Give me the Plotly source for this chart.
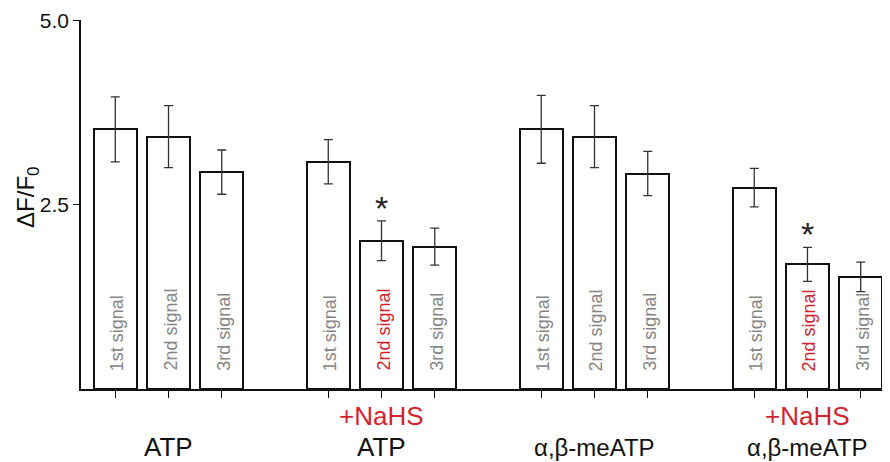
import plotly.graph_objects as go

# ---- data ----
groups = ["ATP", "ATP", "α,β-meATP", "α,β-meATP"]
group_prefix = ["", "+NaHS", "", "+NaHS"]
signals = ["1st signal", "2nd signal", "3rd signal"]
means = [3.52, 3.42, 2.94,
         3.08, 2.01, 1.93,
         3.52, 3.42, 2.92,
         2.73, 1.69, 1.52]
sems = [0.44, 0.42, 0.30,
        0.30, 0.27, 0.25,
        0.46, 0.42, 0.30,
        0.26, 0.23, 0.20]
significant = [False, False, False,
               False, True, False,
               False, False, False,
               False, True, False]
ytick_vals = [2.5, 5.0]
ytick_text = ["2.5", "5.0"]

RED = "#d2232e"
GRAY = "#858585"
FONT = "Liberation Sans, Arial, sans-serif"

# positions: 3 bars per group, one empty slot between groups
xpos = []
for g in range(len(groups)):
    for s in range(len(signals)):
        xpos.append(g * 4 + s)

fig = go.Figure()
fig.add_trace(go.Bar(
    x=xpos, y=means, width=0.8,
    marker=dict(color="white", line=dict(color="#111", width=2)),
    error_y=dict(type="data", array=sems, visible=True,
                 color="#333", thickness=1.3, width=4.5),
    showlegend=False, hoverinfo="skip",
))

annotations = []
for i, (x, m, e) in enumerate(zip(xpos, means, sems)):
    g, s = divmod(i, 3)
    txt_color = RED if (group_prefix[g] and s == 1) else GRAY
    annotations.append(dict(
        x=x, y=0, xref="x", yref="y", text=signals[s], showarrow=False,
        textangle=-90, yanchor="bottom", xanchor="center", yshift=16, xshift=2,
        font=dict(family=FONT, size=18, color=txt_color)))
    if significant[i]:
        annotations.append(dict(
            x=x, y=m + e, xref="x", yref="y", text="*", showarrow=False,
            yanchor="middle", xanchor="center", yshift=13,
            font=dict(family=FONT, size=34, color="#222")))

for g in range(len(groups)):
    cx = g * 4 + 1
    size = 26 if groups[g] == "ATP" else 24
    annotations.append(dict(
        x=cx, y=0, xref="x", yref="paper", text=groups[g], showarrow=False,
        yanchor="middle", xanchor="center", yshift=-58,
        font=dict(family=FONT, size=size, color="#111")))
    if group_prefix[g]:
        annotations.append(dict(
            x=cx, y=0, xref="x", yref="paper", text=group_prefix[g], showarrow=False,
            yanchor="middle", xanchor="center", yshift=-27,
            font=dict(family=FONT, size=26, color=RED)))

annotations.append(dict(
    x=-0.067, y=0.52, xref="paper", yref="paper", text="ΔF/F<sub>0</sub>",
    showarrow=False, textangle=-90, xanchor="center", yanchor="middle",
    font=dict(family=FONT, size=24, color="#111")))

# page body has an 8px margin, so the figure is offset by 8px
fig.update_layout(
    width=882, height=454,
    margin=dict(l=73, r=0, t=8, b=73),
    paper_bgcolor="white", plot_bgcolor="white",
    font=dict(family=FONT, color="#111"),
    annotations=annotations,
    bargap=0,
)
fig.update_xaxes(
    range=[-0.644, 14.55], showgrid=False, zeroline=False,
    showline=True, linecolor="#111", linewidth=1.6,
    tickmode="array", tickvals=xpos, ticks="outside", ticklen=7,
    tickwidth=1.3, tickcolor="#111", showticklabels=False,
)
fig.update_yaxes(
    range=[0, 5.002], showgrid=False, zeroline=False,
    showline=True, linecolor="#111", linewidth=1.6,
    tickmode="array", tickvals=ytick_vals, ticktext=ytick_text,
    ticks="outside", ticklen=6, tickwidth=1.3, tickcolor="#111",
    ticklabeloverflow="allow",
    tickfont=dict(family=FONT, size=21, color="#111"),
)

fig.write_html("out.html")
